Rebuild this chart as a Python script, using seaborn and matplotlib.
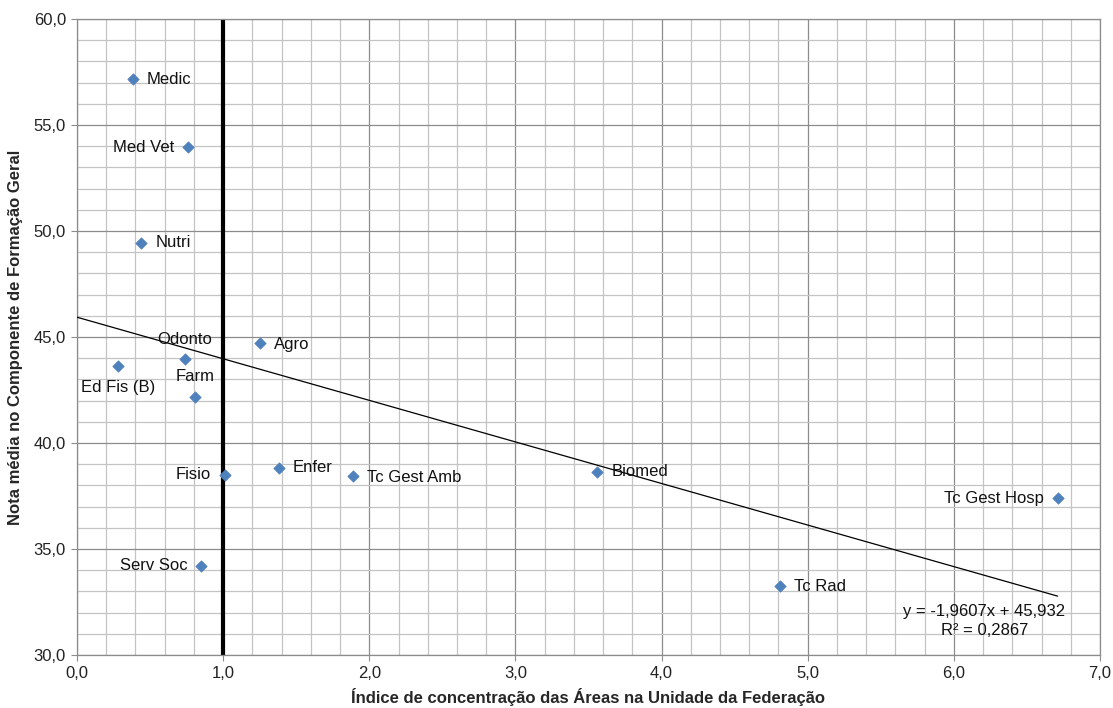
import seaborn as sns
import pandas as pd
import matplotlib.pyplot as plt
import numpy as np
from matplotlib.ticker import MultipleLocator, FuncFormatter

areas = ["Medic", "Med Vet", "Nutri", "Agro", "Odonto", "Ed Fis (B)", "Farm",
         "Fisio", "Enfer", "Tc Gest Amb", "Biomed", "Tc Gest Hosp", "Tc Rad", "Serv Soc"]
indice = [0.38, 0.76, 0.44, 1.25, 0.74, 0.28, 0.81, 1.01, 1.38, 1.89, 3.56, 6.71, 4.81, 0.85]
nota = [57.15, 53.95, 49.45, 44.7, 43.95, 43.65, 42.15, 38.5, 38.8, 38.45, 38.65, 37.4, 33.25, 34.2]

# posicao do rotulo (offset em pontos, alinhamento)
rotulos = {
    "Medic": (10, 0, "left", "center"),
    "Med Vet": (-10, 0, "right", "center"),
    "Nutri": (10, 0, "left", "center"),
    "Agro": (10, -1, "left", "center"),
    "Odonto": (0, 14, "center", "center"),
    "Ed Fis (B)": (0, -16, "center", "center"),
    "Farm": (0, 15, "center", "center"),
    "Fisio": (-10, 0, "right", "center"),
    "Enfer": (10, 1, "left", "center"),
    "Tc Gest Amb": (10, -1, "left", "center"),
    "Biomed": (10, 0, "left", "center"),
    "Tc Gest Hosp": (-10, 0, "right", "center"),
    "Tc Rad": (10, 0, "left", "center"),
    "Serv Soc": (-10, 0, "right", "center"),
}

coef_a = -1.9607
coef_b = 45.932
r2 = 0.2867

df = pd.DataFrame({"Area": areas, "Indice": indice, "Nota": nota})

sns.set_style("white")
plt.rcParams["font.family"] = ["Liberation Sans", "DejaVu Sans"]

fig = plt.figure(figsize=(11.13, 7.08), dpi=100)
ax = fig.add_axes([0.0692, 0.0749, 0.9191, 0.8983])

ax.set_xlim(0, 7)
ax.set_ylim(30, 60)
ax.xaxis.set_major_locator(MultipleLocator(1))
ax.xaxis.set_minor_locator(MultipleLocator(0.2))
ax.yaxis.set_major_locator(MultipleLocator(5))
ax.yaxis.set_minor_locator(MultipleLocator(1))
virgula = FuncFormatter(lambda v, p: f"{v:.1f}".replace(".", ","))
ax.xaxis.set_major_formatter(virgula)
ax.yaxis.set_major_formatter(virgula)

ax.grid(which="major", color="#8c8c8c", linewidth=0.9)
ax.grid(which="minor", color="#c4c4c4", linewidth=0.9)
ax.set_axisbelow(True)
for s in ax.spines.values():
    s.set_color("#8c8c8c")
    s.set_linewidth(0.9)
ax.tick_params(which="major", direction="out", length=4, color="#8c8c8c",
               labelsize=12, labelcolor="#222222", bottom=True, left=True, pad=4)
ax.tick_params(which="minor", length=0)

# linha vertical em 1,0
ax.axvline(1.0, color="black", linewidth=3, zorder=2)

# linha de tendencia
xs = np.array([0, max(indice)])
ax.plot(xs, coef_a * xs + coef_b, color="black", linewidth=0.9, zorder=3)

sns.scatterplot(data=df, x="Indice", y="Nota", marker="D", s=34,
                color="#4F81BD", edgecolor="#4F81BD", ax=ax, zorder=4)

for nome, x, y in zip(areas, indice, nota):
    dx, dy, ha, va = rotulos[nome]
    ax.annotate(nome, (x, y), xytext=(dx, dy), textcoords="offset points",
                ha=ha, va=va, fontsize=12, color="#111111")

eq = f"y = {coef_a:.4f}x + {coef_b:.3f}".replace(".", ",")
r2_txt = f"R² = {r2:.4f}".replace(".", ",")
ax.text(6.21, 32.05, eq, ha="center", va="center", fontsize=12, color="#111111")
ax.text(6.21, 31.15, r2_txt, ha="center", va="center", fontsize=12, color="#111111")

ax.set_xlabel("Índice de concentração das Áreas na Unidade da Federação",
              fontsize=12, fontweight="bold", labelpad=5)
ax.set_ylabel("Nota média no Componente de Formação Geral",
              fontsize=12, fontweight="bold", labelpad=8)

fig.savefig("out.png", dpi=100)
